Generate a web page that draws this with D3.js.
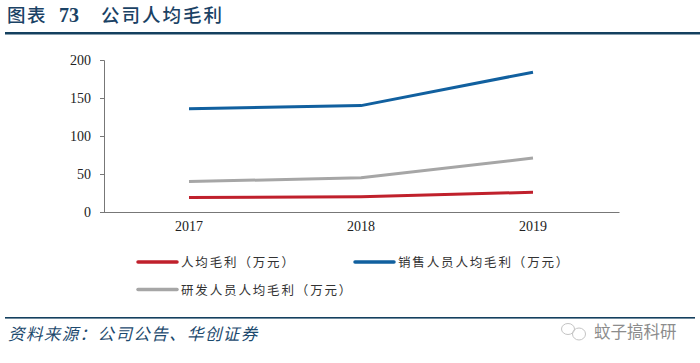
<!DOCTYPE html>
<html><head><meta charset="utf-8">
<script src="https://cdn.jsdelivr.net/npm/d3@7/dist/d3.min.js"></script>
<style>html,body{margin:0;padding:0;background:#fff}svg{display:block}</style>
</head><body><svg id="c" width="700" height="363"></svg>
<script>
const categories = ["2017","2018","2019"];
const avgProfit = [19, 20, 26];
const salesProfit = [136, 140, 184];
const rdProfit = [40, 45, 71];
const yTicks = [0,50,100,150,200];
const seriesNames = ["人均毛利（万元）","销售人员人均毛利（万元）","研发人员人均毛利（万元）"];
const seriesColors = ["#c0202c","#11609f","#a6a6a6"];
const titleParts = ["图表","73","公司人均毛利"];
const sourceText = "资料来源：公司公告、华创证券";
const watermark = "蚊子搞科研";

const svg = d3.select("#c");
const cjk = "'Noto Sans CJK SC'", serif = "'Liberation Serif'";
const x = d3.scaleBand().domain(categories).range([103,619]);
const y = d3.scaleLinear().domain([0,200]).range([212,60]);

const titleX = [7,59,101];
const titleSize = [18.5,20,18.5];
const titleFont = [cjk,serif,cjk];
const titleSpacing = [1.5,0,2];
titleParts.forEach((t,i)=>{
  svg.append("text").attr("x",titleX[i]).attr("y",21.6).attr("font-family",titleFont[i])
    .attr("font-size",titleSize[i]).attr("font-weight",i===1?700:500)
    .attr("letter-spacing",titleSpacing[i]).attr("fill","#1a4265").text(t);
});
svg.append("rect").attr("x",5).attr("y",32).attr("width",695).attr("height",2.5).attr("fill","#14405f");

const yAxis = svg.append("g").attr("transform","translate(104,0)")
  .call(d3.axisLeft(y).tickValues(yTicks).tickSize(4).tickPadding(9));
const xAxis = svg.append("g").attr("transform","translate(0,212)")
  .call(d3.axisBottom(x).tickSize(0).tickPadding(9));
[yAxis,xAxis].forEach(g=>{
  g.selectAll("path,line").attr("stroke","#777").attr("stroke-width",1);
  g.selectAll("text").attr("font-family",serif).attr("font-size",14).attr("fill","#222");
});

const line = d3.line().x((d,i)=>x(categories[i])+x.bandwidth()/2).y(d=>y(d));
[avgProfit,salesProfit,rdProfit].forEach((vals,i)=>{
  svg.append("path").attr("d",line(vals)).attr("fill","none")
    .attr("stroke",seriesColors[i]).attr("stroke-width",3).attr("stroke-linejoin","round");
});

const legendPos = [[138,262],[355,262],[138,289.5]];
seriesNames.forEach((n,i)=>{
  const [lx,ly]=legendPos[i];
  svg.append("line").attr("x1",lx).attr("x2",lx+39).attr("y1",ly).attr("y2",ly)
    .attr("stroke",seriesColors[i]).attr("stroke-width",3.5).attr("stroke-linecap","round");
  svg.append("text").attr("x",lx+43).attr("y",ly+5).attr("font-family",cjk)
    .attr("font-size",12.5).attr("letter-spacing",1.85).attr("fill","#333").text(n);
});

svg.append("rect").attr("x",5).attr("y",317).attr("width",690).attr("height",1.6).attr("fill","#14405f");
svg.append("text").attr("x",8).attr("y",340).attr("font-family",cjk).attr("font-size",16.5)
  .attr("letter-spacing",1.4).attr("font-style","italic").attr("fill","#1d4a6e").text(sourceText);

const icon = svg.append("g").attr("fill","none").attr("stroke","#c4c4c4").attr("stroke-width",1);
icon.append("ellipse").attr("cx",568).attr("cy",329).attr("rx",6.5).attr("ry",5.5);
icon.append("ellipse").attr("cx",579).attr("cy",334).attr("rx",6.5).attr("ry",6);
svg.append("text").attr("x",594).attr("y",338).attr("font-family",cjk).attr("font-size",16.5)
  .attr("fill","#8c8c8c").text(watermark);
</script></body></html>
